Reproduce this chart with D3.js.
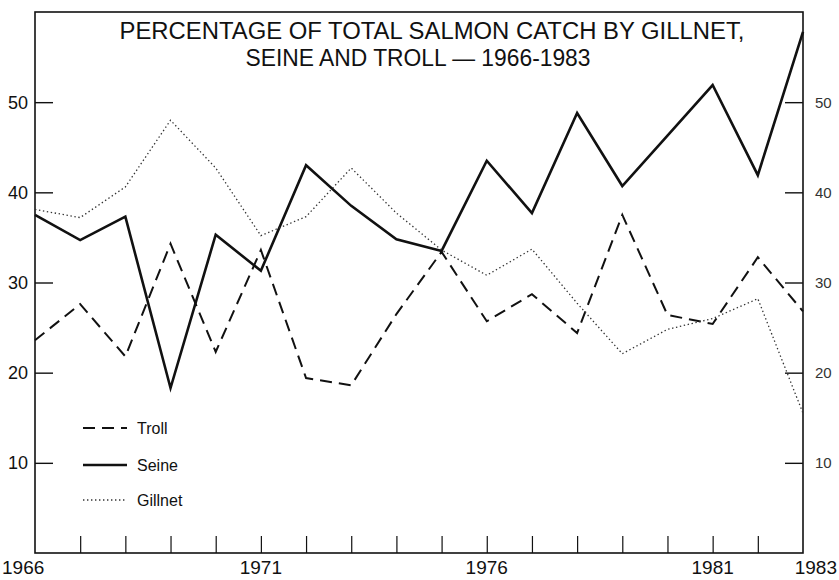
<!DOCTYPE html>
<html>
<head>
<meta charset="utf-8">
<script src="https://cdn.jsdelivr.net/npm/d3@7"></script>
<style>
  html, body { margin: 0; padding: 0; background: #fff; }
  svg { display: block; }
  text { font-family: "Liberation Sans", Arial, Helvetica, sans-serif; fill: #111; }
</style>
</head>
<body>
<svg id="chart" width="839" height="580"></svg>
<script>
// ---- data ----
const years = [1966,1967,1968,1969,1970,1971,1972,1973,1974,1975,1976,1977,1978,1979,1980,1981,1982,1983];
const troll = [23.6,27.6,21.8,34.3,22.3,33.6,19.4,18.6,26.5,33.4,25.7,28.7,24.4,37.5,26.4,25.4,32.8,26.8];
const seine = [37.5,34.7,37.3,18.3,35.3,31.3,43.0,38.5,34.8,33.5,43.5,37.7,48.8,40.7,46.3,51.9,41.9,57.8];
const gillnet = [38.1,37.2,40.6,48.0,42.7,35.2,37.3,42.7,37.7,33.6,30.8,33.7,27.7,22.1,24.8,26.0,28.2,15.5];
const yTicks = [10,20,30,40,50];
const xLabelYears = [1966,1971,1976,1981,1983];
const titleLines = ["PERCENTAGE OF TOTAL SALMON CATCH BY GILLNET,", "SEINE AND TROLL \u2014 1966-1983"];
const legendItems = ["Troll","Seine","Gillnet"];

// ---- layout ----
const L = 35, R = 803, T = 12, B = 553;
const svg = d3.select("#chart");
const x = d3.scaleLinear().domain([1966,1983]).range([L,R]);
const y = d3.scaleLinear().domain([0,60]).range([B,T]);

// frame
svg.append("rect").attr("x",L).attr("y",T).attr("width",R-L).attr("height",B-T)
  .attr("fill","none").attr("stroke","#111").attr("stroke-width",1.6);

// left axis (ticks inward)
const la = svg.append("g").attr("transform",`translate(${L},0)`)
  .call(d3.axisRight(y).tickValues(yTicks).tickSize(18).tickFormat(""));
la.select(".domain").remove();
la.selectAll("line").attr("stroke","#111").attr("stroke-width",1.4);
svg.append("g").selectAll("text").data(yTicks).join("text")
  .attr("x",28).attr("y",d=>y(d)).attr("dy","0.36em")
  .attr("text-anchor","end").style("font-size","18px").text(d=>d);

// right axis (ticks inward)
const ra = svg.append("g").attr("transform",`translate(${R},0)`)
  .call(d3.axisLeft(y).tickValues(yTicks).tickSize(18).tickFormat(""));
ra.select(".domain").remove();
ra.selectAll("line").attr("stroke","#111").attr("stroke-width",1.4);
svg.append("g").selectAll("text").data(yTicks).join("text")
  .attr("x",815).attr("y",d=>y(d)).attr("dy","0.36em")
  .attr("text-anchor","start").style("font-size","15px").style("fill","#333").text(d=>d);

// bottom axis (ticks inward, every year)
const ba = svg.append("g").attr("transform",`translate(0,${B})`)
  .call(d3.axisTop(x).tickValues(years.slice(1,-1)).tickSize(17).tickFormat(""));
ba.select(".domain").remove();
ba.selectAll("line").attr("stroke","#111").attr("stroke-width",1.2);
svg.append("g").selectAll("text").data(xLabelYears).join("text")
  .attr("x",d=> d===1966 ? x(d)-33 : d===1983 ? x(d)+34 : x(d))
  .attr("y",B+14).attr("dy","0.36em")
  .attr("text-anchor",d=> d===1966 ? "start" : d===1983 ? "end" : "middle")
  .style("font-size","19px").text(d=>d);

// title
svg.append("g").selectAll("text").data(titleLines).join("text")
  .attr("x",(d,i)=> i===0 ? 432 : 418).attr("y",(d,i)=> i===0 ? 39 : 66)
  .attr("text-anchor","middle").style("font-size","23px")
  .attr("textLength",(d,i)=> i===0 ? 625 : 345).attr("lengthAdjust","spacingAndGlyphs")
  .text(d=>d);

// lines
const line = d3.line().x((d,i)=>x(years[i])).y(d=>y(d));
const styles = {
  Troll:   {data: troll,   w: 2.0, dash: "12,7", color: "#111"},
  Seine:   {data: seine,   w: 2.6, dash: null,   color: "#111"},
  Gillnet: {data: gillnet, w: 1.3, dash: "1.4,2.6", color: "#333"}
};
legendItems.forEach(k=>{
  const s = styles[k];
  svg.append("path").datum(s.data).attr("d",line)
    .attr("fill","none").attr("stroke",s.color).attr("stroke-width",s.w)
    .attr("stroke-dasharray",s.dash).attr("stroke-linejoin","miter");
});

// legend
const legY = [428,465,500];
const lg = svg.append("g");
legendItems.forEach((k,i)=>{
  const s = styles[k];
  lg.append("line").attr("x1",83).attr("x2",127).attr("y1",legY[i]).attr("y2",legY[i])
    .attr("stroke",s.color).attr("stroke-width",s.w).attr("stroke-dasharray",s.dash);
  lg.append("text").attr("x",137).attr("y",legY[i]).attr("dy","0.36em")
    .style("font-size","16px").text(k);
});
</script>
</body>
</html>
